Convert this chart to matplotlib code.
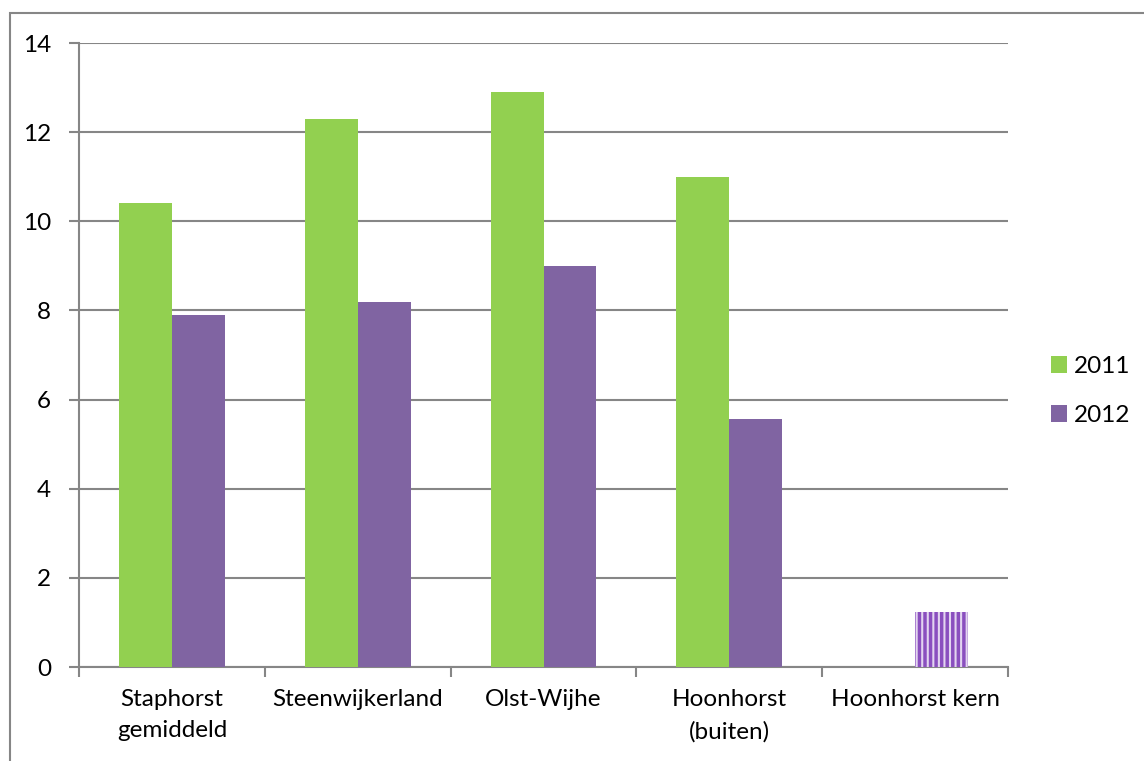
import matplotlib
matplotlib.use("Agg")
import matplotlib.pyplot as plt
from matplotlib.patches import Rectangle
import numpy as np

categories = ["Staphorst\ngemiddeld", "Steenwijkerland", "Olst-Wijhe", "Hoonhorst\n(buiten)", "Hoonhorst kern"]
values_2011 = [10.4, 12.3, 12.9, 11.0, 0.0]
values_2012 = [7.9, 8.2, 9.0, 5.57, 1.23]
hatched_2012 = [False, False, False, False, True]
series_names = ["2011", "2012"]
yticks = [0, 2, 4, 6, 8, 10, 12, 14]

plt.rcParams['font.family'] = ['Lato', 'DejaVu Sans']
plt.rcParams['hatch.linewidth'] = 2.5
FS = 17.5

W, H = 1144, 761
fig = plt.figure(figsize=(W/100, H/100), dpi=100)
ax = fig.add_axes([79/W, 1-667/H, (1008-79)/W, (667-43)/H])

grid_c = '#868686'
green = '#92D050'
purple = '#8064A2'

x = np.arange(len(categories))
bw = 0.285
ax.bar(x - bw/2, values_2011, bw, color=green, label=series_names[0], zorder=3)
for xi, v, h in zip(x, values_2012, hatched_2012):
    if h:
        ax.bar(xi + bw/2, v, bw, facecolor='#e3d5f0', edgecolor='#8a4fbf', hatch='|||',
               linewidth=0, zorder=3)
    else:
        ax.bar(xi + bw/2, v, bw, color=purple, zorder=3)
ax.bar([0], [0], 0, color=purple, label=series_names[1])

ax.set_xlim(-0.5, len(categories) - 0.5)
ax.set_ylim(0, 14)
ax.set_yticks(yticks)
ax.set_yticklabels([str(t) for t in yticks], fontsize=FS)
ax.yaxis.grid(True, color=grid_c, linewidth=1.5, zorder=0)
ax.set_axisbelow(True)

ax.set_xticks(np.arange(-0.5, len(categories), 1.0))
ax.set_xticklabels([])
ax.set_xticks(x, minor=True)
ax.set_xticklabels(categories, minor=True, fontsize=FS, linespacing=1.6)
ax.tick_params(axis='x', which='minor', length=0, pad=16)
ax.tick_params(axis='x', which='major', length=7, width=1.5, color=grid_c, direction='out')
ax.tick_params(axis='y', length=7, width=1.5, color=grid_c, direction='out', pad=13)

for s in ['top', 'right']:
    ax.spines[s].set_visible(False)
for s in ['left', 'bottom']:
    ax.spines[s].set_color(grid_c)
    ax.spines[s].set_linewidth(1.5)

leg = ax.legend(loc='center left', frameon=False,
                fontsize=FS, handlelength=0.65, handleheight=0.65, handletextpad=0.3,
                labelspacing=1.15, borderpad=0, borderaxespad=0)
leg.set_bbox_to_anchor((1051/W, 1-391/H), transform=fig.transFigure)

border = Rectangle((10/W, -0.05), 1.1, 1 - 13/H + 0.05, transform=fig.transFigure,
                   fill=False, edgecolor=grid_c, linewidth=1.5, clip_on=False)
fig.patches.append(border)

fig.savefig("out.png", dpi=100)
